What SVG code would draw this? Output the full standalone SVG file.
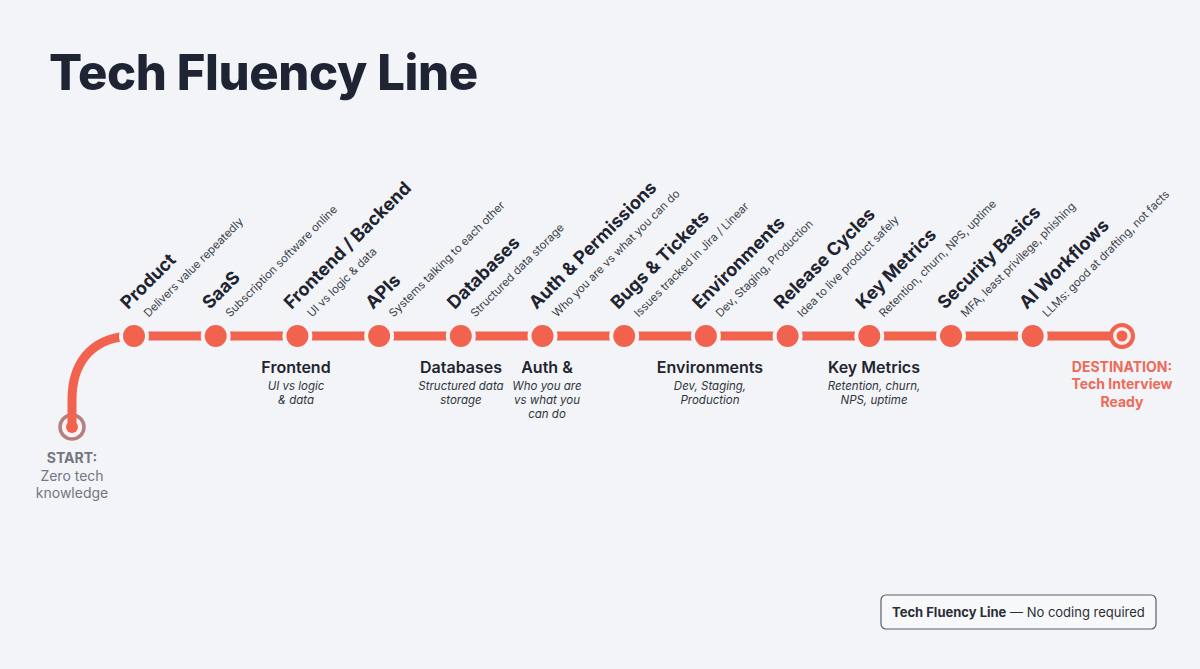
<svg xmlns="http://www.w3.org/2000/svg" width="1200" height="669" viewBox="0 0 1200 669">
<style>
.bg{fill:#f2f4f7}
.title{font-family:Inter,"Liberation Sans",sans-serif;font-weight:800;font-size:49px;fill:#1e2433;letter-spacing:-0.4px}
.lt{font-family:Inter,"Liberation Sans",sans-serif;font-weight:700;font-size:18px;fill:#1f2430}
.ls{font-family:Inter,"Liberation Sans",sans-serif;font-weight:400;font-size:11.3px;fill:#3a3f4a}
.bt{font-family:Inter,"Liberation Sans",sans-serif;font-weight:600;font-size:16px;fill:#1f2430;text-anchor:middle}
.bs{font-family:Inter,"Liberation Sans",sans-serif;font-style:italic;font-size:11.5px;fill:#30343d;text-anchor:middle}
.st{font-family:Inter,"Liberation Sans",sans-serif;font-size:14px;fill:#72767f;text-anchor:middle}
.dt{font-family:Inter,"Liberation Sans",sans-serif;font-weight:700;font-size:14px;fill:#ee6a58;text-anchor:middle}
.line{fill:none;stroke:#f2634f;stroke-width:9}
.halo{fill:#f2f4f7}
.dot{fill:#f2634f}
.lg{font-family:Inter,"Liberation Sans",sans-serif;font-size:13px;fill:#2a2e36}
</style>
<rect class="bg" x="0" y="0" width="1200" height="669"/>
<text class="title" x="49" y="90">Tech Fluency Line</text>

<g id="start">
<circle cx="72" cy="427" r="12" fill="#fbf3f3" stroke="#b3817f" stroke-width="3.5"/>
</g>

<g id="connectors">
<path class="line" d="M72,427 L72,400 C72,364 90,339 128,336"/>
<path class="line" d="M134,336 H1112"/>
<circle class="dot" cx="72" cy="427" r="6"/>
</g>

<g id="destination">
<circle cx="1122" cy="336" r="11" fill="#fdf1ef" stroke="#f2634f" stroke-width="4"/>
<circle class="dot" cx="1122" cy="336" r="5.5"/>
<text class="dt" x="1122" y="372">DESTINATION:</text>
<text class="dt" x="1122" y="389">Tech Interview</text>
<text class="dt" x="1122" y="407">Ready</text>
</g>

<g id="start-label">
<text class="st" x="72" y="463" font-weight="700">START:</text>
<text class="st" x="72" y="481">Zero tech</text>
<text class="st" x="72" y="498">knowledge</text>
</g>

<g id="s1"><circle class="halo" cx="134" cy="336" r="15"/><circle class="dot" cx="134" cy="336" r="11"/>
<g transform="translate(128,310) rotate(-45)"><text class="lt">Product</text><text class="ls" x="9" y="20">Delivers value repeatedly</text></g></g>
<g id="s2"><circle class="halo" cx="215.7" cy="336" r="15"/><circle class="dot" cx="215.7" cy="336" r="11"/>
<g transform="translate(209.7,310) rotate(-45)"><text class="lt">SaaS</text><text class="ls" x="9" y="20">Subscription software online</text></g></g>
<g id="s3"><circle class="halo" cx="297.4" cy="336" r="15"/><circle class="dot" cx="297.4" cy="336" r="11"/>
<g transform="translate(291.4,310) rotate(-45)"><text class="lt">Frontend / Backend</text><text class="ls" x="9" y="20">UI vs logic &amp; data</text></g>
<text class="bt" x="296" y="373">Frontend</text><text class="bs" x="296" y="390">UI vs logic</text><text class="bs" x="296" y="404">&amp; data</text></g>
<g id="s4"><circle class="halo" cx="379.1" cy="336" r="15"/><circle class="dot" cx="379.1" cy="336" r="11"/>
<g transform="translate(373.1,310) rotate(-45)"><text class="lt">APIs</text><text class="ls" x="9" y="20">Systems talking to each other</text></g></g>
<g id="s5"><circle class="halo" cx="460.8" cy="336" r="15"/><circle class="dot" cx="460.8" cy="336" r="11"/>
<g transform="translate(454.8,310) rotate(-45)"><text class="lt">Databases</text><text class="ls" x="9" y="20">Structured data storage</text></g>
<text class="bt" x="461" y="373">Databases</text><text class="bs" x="461" y="390">Structured data</text><text class="bs" x="461" y="404">storage</text></g>
<g id="s6"><circle class="halo" cx="542.5" cy="336" r="15"/><circle class="dot" cx="542.5" cy="336" r="11"/>
<g transform="translate(536.5,310) rotate(-45)"><text class="lt">Auth &amp; Permissions</text><text class="ls" x="9" y="20">Who you are vs what you can do</text></g>
<text class="bt" x="547" y="373">Auth &amp;</text><text class="bs" x="547" y="390">Who you are</text><text class="bs" x="547" y="404">vs what you</text><text class="bs" x="547" y="418">can do</text></g>
<g id="s7"><circle class="halo" cx="624.2" cy="336" r="15"/><circle class="dot" cx="624.2" cy="336" r="11"/>
<g transform="translate(618.2,310) rotate(-45)"><text class="lt">Bugs &amp; Tickets</text><text class="ls" x="9" y="20">Issues tracked in Jira / Linear</text></g></g>
<g id="s8"><circle class="halo" cx="705.9" cy="336" r="15"/><circle class="dot" cx="705.9" cy="336" r="11"/>
<g transform="translate(699.9,310) rotate(-45)"><text class="lt">Environments</text><text class="ls" x="9" y="20">Dev, Staging, Production</text></g>
<text class="bt" x="710" y="373">Environments</text><text class="bs" x="710" y="390">Dev, Staging,</text><text class="bs" x="710" y="404">Production</text></g>
<g id="s9"><circle class="halo" cx="787.6" cy="336" r="15"/><circle class="dot" cx="787.6" cy="336" r="11"/>
<g transform="translate(781.6,310) rotate(-45)"><text class="lt">Release Cycles</text><text class="ls" x="9" y="20">Idea to live product safely</text></g></g>
<g id="s10"><circle class="halo" cx="869.3" cy="336" r="15"/><circle class="dot" cx="869.3" cy="336" r="11"/>
<g transform="translate(863.3,310) rotate(-45)"><text class="lt">Key Metrics</text><text class="ls" x="9" y="20">Retention, churn, NPS, uptime</text></g>
<text class="bt" x="874" y="373">Key Metrics</text><text class="bs" x="874" y="390">Retention, churn,</text><text class="bs" x="874" y="404">NPS, uptime</text></g>
<g id="s11"><circle class="halo" cx="951" cy="336" r="15"/><circle class="dot" cx="951" cy="336" r="11"/>
<g transform="translate(945,310) rotate(-45)"><text class="lt">Security Basics</text><text class="ls" x="9" y="20">MFA, least privilege, phishing</text></g></g>
<g id="s12"><circle class="halo" cx="1032.7" cy="336" r="15"/><circle class="dot" cx="1032.7" cy="336" r="11"/>
<g transform="translate(1026.7,310) rotate(-45)"><text class="lt">AI Workflows</text><text class="ls" x="9" y="20">LLMs: good at drafting, not facts</text></g></g>

<g id="legend">
<rect x="881" y="595" width="275" height="34" rx="5" fill="#f7f8fa" stroke="#5a5e66" stroke-width="1.2"/>
<text class="lg" x="892" y="617"><tspan font-weight="700">Tech Fluency Line</tspan> — No coding required</text>
</g>
</svg>
